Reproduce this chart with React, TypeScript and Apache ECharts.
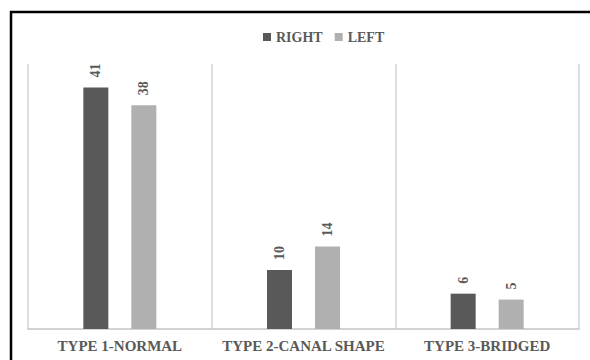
import React, { useEffect, useRef } from "react";
import * as echarts from "echarts";

const categories = ["TYPE 1-NORMAL", "TYPE 2-CANAL SHAPE", "TYPE 3-BRIDGED"];
const rightValues = [41, 10, 6];
const leftValues = [38, 14, 5];
const seriesNames = ["RIGHT", "LEFT"];

const SERIF = "'Liberation Serif', 'Times New Roman', serif";
const TEXT_GRAY = "#595959";
const DARK = "#595959";
const LIGHT = "#b0b0b0";

export default function App() {
  const ref = useRef<HTMLDivElement>(null);

  useEffect(() => {
    if (!ref.current) return;
    const chart = echarts.init(ref.current, undefined, { renderer: "svg" });

    const valueLabel = {
      show: true,
      position: "top" as const,
      rotate: 90,
      distance: 10,
      align: "left" as const,
      verticalAlign: "middle" as const,
      color: TEXT_GRAY,
      fontFamily: SERIF,
      fontWeight: "bold" as const,
      fontSize: 14,
    };

    chart.setOption({
      animation: false,
      backgroundColor: "#ffffff",
      graphic: [
        {
          type: "rect",
          shape: { x: 11, y: 12, width: 620, height: 400 },
          style: { fill: "none", stroke: "#000000", lineWidth: 2.5 },
          silent: true,
        },
      ],
      legend: {
        data: seriesNames,
        left: 263,
        top: 30,
        padding: 0,
        itemWidth: 8,
        itemHeight: 8,
        itemGap: 12,
        icon: "rect",
        textStyle: {
          color: TEXT_GRAY,
          fontFamily: SERIF,
          fontWeight: "bold",
          fontSize: 14,
        },
      },
      grid: { left: 28, right: 11, top: 64, bottom: 31 },
      xAxis: {
        type: "category",
        data: categories,
        axisLine: { show: true, lineStyle: { color: "#c4c4c4", width: 1.5 } },
        axisTick: { show: false },
        splitLine: {
          show: true,
          interval: 0,
          lineStyle: { color: "#d6d6d6", width: 1.5 },
        },
        axisLabel: {
          margin: 9,
          color: TEXT_GRAY,
          fontFamily: SERIF,
          fontWeight: "bold",
          fontSize: 15,
          interval: 0,
        },
      },
      yAxis: {
        type: "value",
        min: 0,
        max: 45,
        show: false,
        splitLine: { show: false },
      },
      series: [
        {
          name: seriesNames[0],
          type: "bar",
          data: rightValues,
          barWidth: 25,
          barGap: "92%",
          itemStyle: { color: DARK },
          label: valueLabel,
        },
        {
          name: seriesNames[1],
          type: "bar",
          data: leftValues,
          barWidth: 25,
          barGap: "92%",
          itemStyle: { color: LIGHT },
          label: valueLabel,
        },
      ],
    });

    return () => chart.dispose();
  }, []);

  return (
    <div
      ref={ref}
      style={{
        position: "fixed",
        left: 0,
        top: 0,
        width: 590,
        height: 360,
        background: "#ffffff",
      }}
    />
  );
}
